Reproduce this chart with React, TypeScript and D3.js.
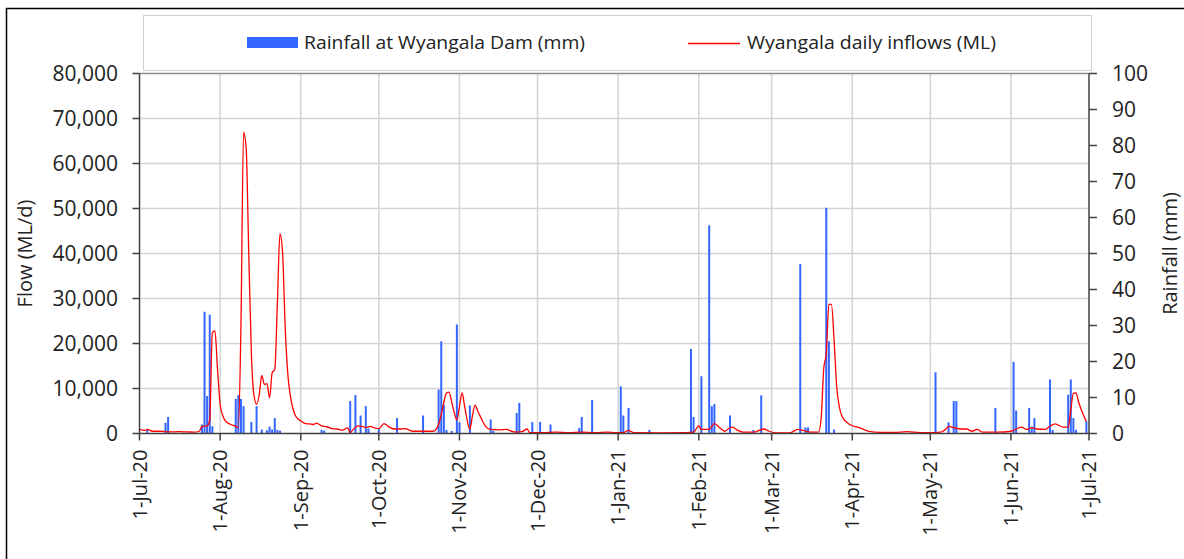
import React from 'react';
import * as d3 from 'd3';

// Day offsets are counted from 1-Jul-2020
const START = new Date(2020, 6, 1);
const END = new Date(2021, 6, 1);

const monthTickLabels = ['1-Jul-20','1-Aug-20','1-Sep-20','1-Oct-20','1-Nov-20','1-Dec-20','1-Jan-21','1-Feb-21','1-Mar-21','1-Apr-21','1-May-21','1-Jun-21','1-Jul-21'];
const flowTickValues = [0,10000,20000,30000,40000,50000,60000,70000,80000];
const rainTickValues = [0,10,20,30,40,50,60,70,80,90,100];

// Rainfall at Wyangala Dam (mm): [day offset, mm]
const rainfall: [number, number][] = [
  [3,1.0],[10,3.0],[11,4.6],[24,2.5],[25,33.8],[26,10.4],[27,33.0],[28,2.0],
  [37,9.6],[38,10.7],[39,9.6],[40,7.6],[43,3.2],[45,7.6],[47,1.1],[49,0.9],[50,1.9],[51,1.1],[52,4.3],[53,1.0],[54,0.8],
  [70,1.0],[71,0.8],[81,9.0],[83,10.7],[85,5.0],[87,7.6],[88,1.4],
  [92,1.4],[99,4.3],[109,5.0],[115,12.2],[116,25.6],[117,8.0],[118,1.0],[120,0.7],[122,30.3],
  [123,3.1],[127,7.8],[135,3.9],[136,0.8],[145,5.7],[146,8.5],[151,3.2],
  [154,3.2],[158,2.5],[169,1.5],[170,4.6],[174,9.3],
  [185,13.1],[186,5.0],[188,7.1],[196,1.0],[212,23.5],[213,4.6],
  [216,15.9],[219,57.8],[220,7.6],[221,8.2],[227,5.0],[236,1.0],[239,10.6],
  [254,47.1],[256,1.7],[257,1.7],[264,62.7],[265,25.6],[267,1.1],
  [306,17.0],[311,3.1],[313,9.0],[314,9.0],[329,7.1],
  [336,19.9],[337,6.4],[342,7.1],[343,1.9],[344,4.3],[350,15.0],[351,1.0],[357,10.8],[358,15.0],[359,4.3],[360,1.0],[364,3.4],
];

// Wyangala daily inflows (ML): [day offset, ML]
const inflows: [number, number][] = [
  [0,900],[2,700],[3,900],[5,500],[8,500],[12,350],[15,400],[18,350],[21,300],[23,500],
  [24,1600],[26,1700],[27,3000],[28,22400],[29,22800],[30,14200],[31,6500],[32,4000],[33,2800],[35,2000],[37,1600],[38,1300],
  [39,24000],[40,66900],[41,63500],[42,40000],[43,18000],[44,8500],[45,6500],[46,8500],[47,12900],[48,10900],[49,11100],[50,7900],
  [51,13500],[52,14200],[53,29000],[54,44400],[55,40200],[56,23700],[57,13300],[58,8300],[59,5500],[60,3900],[62,2800],[64,2200],
  [66,2100],[67,2000],[68,2300],[70,1700],[72,1500],[74,1100],[76,1000],[78,750],[80,1250],[81,200],[82,800],[84,1700],[86,1500],
  [87,1300],[89,1600],[90,1300],[92,1100],[94,2200],[96,1400],[98,1000],[100,1000],[102,1100],[105,500],[110,500],[113,500],
  [114,900],[116,4200],[117,7000],[118,9000],[119,9200],[120,7000],[121,4600],[122,3000],[123,6000],[124,9000],[125,6000],
  [127,900],[128,4000],[129,6300],[130,5000],[131,3800],[133,1600],[135,900],[138,800],[141,900],[143,500],[145,300],[147,400],
  [149,1000],[150,200],[155,200],[160,300],[165,200],[170,300],[175,200],[180,300],[183,200],[186,200],[188,700],[190,200],
  [200,150],[210,200],[213,300],[215,1700],[216,900],[219,900],[221,2200],[223,1300],[225,500],[227,1300],[228,1400],[230,700],
  [232,300],[236,300],[240,1000],[242,500],[245,150],[250,150],[253,900],[255,700],[258,300],[261,300],[262,3100],[263,14200],
  [264,17900],[265,28700],[266,28700],[267,20900],[268,10500],[269,6000],[270,3900],[273,2000],[277,1260],[280,550],[285,250],
  [290,250],[295,400],[300,200],[305,200],[308,300],[310,1000],[311,1600],[313,1300],[316,1000],[318,1000],[320,500],[322,900],
  [324,300],[330,300],[335,500],[339,1400],[341,900],[343,1300],[345,1000],[348,900],[350,1600],[352,2150],[355,1400],[357,1400],
  [358,5300],[359,8900],[360,9000],[361,7000],[363,3900],[364,2700],
];

const TICK_FONT = '"Open Sans", sans-serif';

export default function App() {
  const left = 139.5, right = 1089, top = 73.5, bottom = 433.5;
  const day = (d: number) => d3.timeDay.offset(START, d);
  const x = d3.scaleTime().domain([START, END]).range([left, right]);
  const yFlow = d3.scaleLinear().domain([0, 80000]).range([bottom, top]);
  const yRain = d3.scaleLinear().domain([0, 100]).range([bottom, top]);
  const months = d3.timeMonth.range(START, d3.timeDay.offset(END, 1));
  const fmt = d3.format(',');
  const line = d3.line<[number, number]>()
    .x(d => x(day(d[0])))
    .y(d => yFlow(d[1]))
    .curve(d3.curveMonotoneX);

  return (
    <svg width={1184} height={559} style={{ position: 'absolute', left: 0, top: 0, background: '#fff' }}>
      <rect x={0} y={0} width={1184} height={559} fill="#fff" />
      {/* outer frame */}
      <line x1={6} y1={8.5} x2={1184} y2={8.5} stroke="#000" strokeWidth={1.5} />
      <line x1={6.5} y1={8} x2={6.5} y2={559} stroke="#000" strokeWidth={1.5} />
      {/* legend */}
      <rect x={143.5} y={15.5} width={948} height={55} fill="#fff" stroke="#d0d0d0" strokeWidth={1} />
      <rect x={247} y={37} width={51} height={11} fill="#3366ff" />
      <text x={304} y={49} fontFamily={TICK_FONT} fontSize={18} textLength={281} lengthAdjust="spacingAndGlyphs" fill="#222">Rainfall at Wyangala Dam (mm)</text>
      <line x1={688} y1={43.5} x2={740} y2={43.5} stroke="#ff0000" strokeWidth={1.5} />
      <text x={747} y={49} fontFamily={TICK_FONT} fontSize={18} textLength={249} lengthAdjust="spacingAndGlyphs" fill="#222">Wyangala daily inflows (ML)</text>

      {/* gridlines */}
      {flowTickValues.filter(v => v > 0 && v < 80000).map(v => (
        <line key={'gh' + v} x1={left} x2={right} y1={yFlow(v)} y2={yFlow(v)} stroke="#d4d4d4" strokeWidth={1.5} />
      ))}
      {months.slice(1, -1).map((m, i) => (
        <line key={'gv' + i} x1={x(m)} x2={x(m)} y1={top} y2={bottom} stroke="#d4d4d4" strokeWidth={1.5} />
      ))}
      <line x1={left} x2={right} y1={top} y2={top} stroke="#8c8c8c" strokeWidth={1.5} />

      {/* rainfall bars */}
      {rainfall.map(([d, v], i) => (
        <rect key={'b' + i} x={x(day(d)) - 1} y={yRain(v)} width={2} height={bottom - yRain(v)} fill="#3366ff" />
      ))}

      {/* inflow line */}
      <path d={line(inflows) || ''} fill="none" stroke="#ff0000" strokeWidth={1.3} />

      {/* axes */}
      <line x1={left} x2={left} y1={top} y2={bottom} stroke="#404040" strokeWidth={1.5} />
      <line x1={right} x2={right} y1={top} y2={bottom} stroke="#404040" strokeWidth={1.5} />
      <line x1={left} x2={right} y1={bottom} y2={bottom} stroke="#404040" strokeWidth={1.5} />
      {flowTickValues.map(v => (
        <g key={'lt' + v}>
          <line x1={left - 7} x2={left} y1={yFlow(v)} y2={yFlow(v)} stroke="#404040" strokeWidth={1.5} />
          <text x={118} y={yFlow(v)} dy="0.35em" textAnchor="end" fontFamily={TICK_FONT} fontSize={21} fill="#222">{fmt(v)}</text>
        </g>
      ))}
      {rainTickValues.map(v => (
        <g key={'rt' + v}>
          <line x1={right} x2={right + 8} y1={yRain(v)} y2={yRain(v)} stroke="#404040" strokeWidth={1.5} />
          <text x={1112} y={yRain(v)} dy="0.35em" textAnchor="start" fontFamily={TICK_FONT} fontSize={21} fill="#222">{v}</text>
        </g>
      ))}
      {months.map((m, i) => (
        <g key={'bt' + i}>
          <line x1={x(m)} x2={x(m)} y1={bottom} y2={bottom + 7} stroke="#404040" strokeWidth={1.5} />
          <text transform={`translate(${x(m)},${bottom + 16}) rotate(-90)`} dy="0.35em" textAnchor="end" fontFamily={TICK_FONT} fontSize={20} fill="#222">{monthTickLabels[i]}</text>
        </g>
      ))}
      {/* axis titles */}
      <text transform={`translate(25,${(top + bottom) / 2}) rotate(-90)`} dy="0.35em" textAnchor="middle" fontFamily={TICK_FONT} fontSize={20} fill="#222">Flow (ML/d)</text>
      <text transform={`translate(1170,${(top + bottom) / 2}) rotate(-90)`} dy="0.35em" textAnchor="middle" fontFamily={TICK_FONT} fontSize={20} fill="#222">Rainfall (mm)</text>
    </svg>
  );
}
